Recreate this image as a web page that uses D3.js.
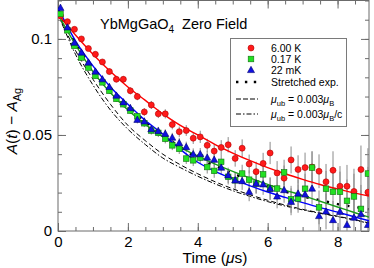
<!DOCTYPE html>
<html>
<head>
<meta charset="utf-8">
<script src="https://cdn.jsdelivr.net/npm/d3@7"></script>
<style>
  body { margin: 0; background: #fff; }
  svg { display: block; font-family: "Liberation Sans", Arial, sans-serif; }
</style>
</head>
<body>
<div id="chart"></div>
<script>
// time bins (us)
const times = [0.07, 0.27, 0.47, 0.67, 0.87, 1.07, 1.27, 1.47, 1.67, 1.87,
  2.07, 2.27, 2.47, 2.67, 2.87, 3.07, 3.27, 3.47, 3.67, 3.87,
  4.07, 4.27, 4.47, 4.67, 4.87, 5.07, 5.27, 5.47, 5.67, 5.87,
  6.07, 6.27, 6.47, 6.67, 6.87, 7.07, 7.27, 7.47, 7.67, 7.87,
  8.07, 8.27, 8.47, 8.67, 8.87];

const red6K = [0.112, 0.109, 0.105, 0.100, 0.095, 0.092, 0.088, 0.083, 0.079, 0.079,
  0.073, 0.070, 0.062, 0.0656, 0.061, 0.061, 0.0554, 0.0517, 0.0523, 0.0483,
  0.049, 0.0446, 0.0416, 0.0435, 0.0449, 0.0378, 0.0431, 0.0349, 0.0309, 0.0352,
  0.0406, 0.0302, 0.0275, 0.037, 0.032, 0.033, 0.0333, 0.0311, 0.0256, 0.0316,
  0.0233, 0.0233, 0.0206, 0.032, 0.0202];

const green017K = [0.113, 0.1045, 0.0964, 0.0903, 0.0851, 0.0808, 0.0774, 0.073, 0.0688, 0.066,
  0.0627, 0.0597, 0.0561, 0.0523, 0.0511, 0.048, 0.0446, 0.0428, 0.0377, 0.0368,
  0.0382, 0.0333, 0.0313, 0.036, 0.0282, 0.0264, 0.0299, 0.0267, 0.0247, 0.0295,
  0.0221, 0.0221, 0.0305, 0.0165, 0.0169, 0.022, 0.033, 0.0123, 0.022, 0.0204,
  0.0204, 0.0157, 0.018, 0.0115, 0.0299];

const blue22mK = [0.1162, 0.106, 0.098, 0.0929, 0.0877, 0.083, 0.079, 0.075, 0.0705, 0.067,
  0.064, 0.0579, 0.057, 0.053, 0.052, 0.0506, 0.0486, 0.0458, 0.0437, 0.040,
  0.040, 0.0382, 0.0371, 0.033, 0.029, 0.0264, 0.026, 0.0204, 0.0247, 0.0243,
  0.022, 0.018, 0.0213, 0.0152, 0.0195, 0.019, 0.0221, 0.0078, 0.0102, 0.0057,
  0.010, 0.0032, 0.007, 0.0088, 0.0032];

const errs = [0.0008, 0.0009, 0.001, 0.0011, 0.0012, 0.0013, 0.0014, 0.0015, 0.0016, 0.0017,
  0.0018, 0.0019, 0.002, 0.0021, 0.0022, 0.0024, 0.0025, 0.0027, 0.0028, 0.003,
  0.0032, 0.0034, 0.0036, 0.0038, 0.004, 0.0043, 0.0046, 0.0049, 0.0052, 0.0055,
  0.0058, 0.0062, 0.0066, 0.007, 0.0074, 0.0078, 0.0083, 0.0088, 0.0093, 0.0099,
  0.0105, 0.0111, 0.0118, 0.0125, 0.0132];

// fit curves, read at these times
const fitTimes = [0, 0.5, 1, 1.5, 2, 2.5, 3, 3.5, 4, 4.5, 5, 5.5, 6, 6.5, 7, 7.5, 8, 8.5, 8.9];
const fitRed = [0.113, 0.102, 0.092, 0.083, 0.075, 0.068, 0.061, 0.055, 0.050, 0.045, 0.0406, 0.0366, 0.033, 0.0298, 0.0269, 0.0242, 0.0219, 0.0197, 0.0182];
const fitGreen = [0.113, 0.097, 0.083, 0.072, 0.063, 0.0555, 0.049, 0.0435, 0.039, 0.0348, 0.031, 0.0275, 0.0243, 0.0213, 0.0185, 0.0155, 0.0125, 0.0095, 0.0072];
const fitBlue = [0.116, 0.099, 0.086, 0.075, 0.066, 0.0575, 0.0505, 0.0425, 0.0358, 0.031, 0.027, 0.0235, 0.0203, 0.0175, 0.0148, 0.0122, 0.0098, 0.0073, 0.0053];
const fitStretched = [0.115, 0.098, 0.085, 0.074, 0.065, 0.057, 0.050, 0.0437, 0.038, 0.034, 0.030, 0.0265, 0.0232, 0.0205, 0.018, 0.016, 0.014, 0.0125, 0.0113];
const fitDashed = [0.113, 0.094, 0.079, 0.066, 0.055, 0.047, 0.040, 0.0345, 0.0298, 0.0256, 0.022, 0.0188, 0.016, 0.0135, 0.0113, 0.0094, 0.0077, 0.0058, 0.0042];
const fitDashDot = [0.113, 0.092, 0.076, 0.063, 0.053, 0.045, 0.038, 0.033, 0.0285, 0.0245, 0.021, 0.018, 0.0153, 0.013, 0.011, 0.0092, 0.0075, 0.0056, 0.004];

const xTicks = [0, 2, 4, 6, 8];
const yTicks = [0, 0.05, 0.1];

const W = 374, H = 268;
const mLeft = 58, mRight = 369, mTop = 0.5, mBottom = 231;

const svg = d3.select("#chart").append("svg").attr("width", W).attr("height", H);

const x = d3.scaleLinear().domain([0, 8.9]).range([mLeft, mRight]);
const y = d3.scaleLinear().domain([0, 0.12]).range([mBottom, mTop]);

const frameCol = "#6b6b6b";

// axes with inward ticks on all four sides
function styleAxis(g) {
  g.select(".domain").remove();
  g.selectAll("line").attr("stroke", frameCol);
  g.selectAll("text").attr("fill", "#000").style("font-size", "15px");
}
const xMinor = d3.range(0, 8.9, 0.5);
const yMinor = d3.range(0, 0.1201, 0.01);

svg.append("g").attr("transform", `translate(0,${mBottom})`)
  .call(d3.axisBottom(x).tickValues(xMinor).tickSize(-4).tickFormat(""))
  .call(styleAxis);
svg.append("g").attr("transform", `translate(0,${mBottom})`)
  .call(d3.axisBottom(x).tickValues(xTicks).tickSize(-8).tickPadding(5).tickFormat(d3.format("d")))
  .call(styleAxis);
svg.append("g").attr("transform", `translate(0,${mTop})`)
  .call(d3.axisTop(x).tickValues(xMinor).tickSize(-4).tickFormat(""))
  .call(styleAxis);
svg.append("g").attr("transform", `translate(0,${mTop})`)
  .call(d3.axisTop(x).tickValues(xTicks).tickSize(-8).tickFormat(""))
  .call(styleAxis);

svg.append("g").attr("transform", `translate(${mLeft},0)`)
  .call(d3.axisLeft(y).tickValues(yMinor).tickSize(-4).tickFormat(""))
  .call(styleAxis);
svg.append("g").attr("transform", `translate(${mLeft},0)`)
  .call(d3.axisLeft(y).tickValues(yTicks).tickSize(-8).tickPadding(6).tickFormat(d => d === 0 ? "0" : d3.format(".2~f")(d)))
  .call(styleAxis);
svg.append("g").attr("transform", `translate(${mRight},0)`)
  .call(d3.axisRight(y).tickValues(yMinor).tickSize(-4).tickFormat(""))
  .call(styleAxis);
svg.append("g").attr("transform", `translate(${mRight},0)`)
  .call(d3.axisRight(y).tickValues(yTicks).tickSize(-8).tickFormat(""))
  .call(styleAxis);

// frame
svg.append("rect").attr("x", mLeft).attr("y", mTop).attr("width", mRight - mLeft).attr("height", mBottom - mTop)
  .attr("fill", "none").attr("stroke", frameCol).attr("stroke-width", 1);

// clip for curves
svg.append("clipPath").attr("id", "plot")
  .append("rect").attr("x", mLeft).attr("y", mTop).attr("width", mRight - mLeft).attr("height", mBottom - mTop);
const plot = svg.append("g").attr("clip-path", "url(#plot)");

const line = d3.line().x(d => x(d[0])).y(d => y(d[1])).curve(d3.curveMonotoneX);
const curve = vals => fitTimes.map((t, i) => [t, vals[i]]);

plot.append("path").attr("d", line(curve(fitDashed)))
  .attr("fill", "none").attr("stroke", "#000").attr("stroke-width", 1).attr("stroke-dasharray", "5,3");
plot.append("path").attr("d", line(curve(fitDashDot)))
  .attr("fill", "none").attr("stroke", "#000").attr("stroke-width", 1).attr("stroke-dasharray", "5,2,1.5,2");
plot.append("path").attr("d", line(curve(fitStretched)))
  .attr("fill", "none").attr("stroke", "#000").attr("stroke-width", 2.4).attr("stroke-dasharray", "2.4,8");

// error bars
const series = [
  { vals: red6K, fill: "#ff1a1a", stroke: "#b00000", shape: "circle" },
  { vals: green017K, fill: "#22e022", stroke: "#107010", shape: "square" },
  { vals: blue22mK, fill: "#1010e0", stroke: "#000070", shape: "triangle" }
];
series.forEach(s => {
  plot.append("g").selectAll("line").data(times).join("line")
    .attr("x1", d => x(d)).attr("x2", d => x(d))
    .attr("y1", (d, i) => y(s.vals[i] - errs[i]))
    .attr("y2", (d, i) => y(s.vals[i] + errs[i]))
    .attr("stroke", "#8a8a8a").attr("stroke-width", 1);
});

plot.append("path").attr("d", line(curve(fitGreen)))
  .attr("fill", "none").attr("stroke", "#1a9a1a").attr("stroke-width", 1.4);
plot.append("path").attr("d", line(curve(fitBlue)))
  .attr("fill", "none").attr("stroke", "#0000ff").attr("stroke-width", 1.4);
plot.append("path").attr("d", line(curve(fitRed)))
  .attr("fill", "none").attr("stroke", "#ff0000").attr("stroke-width", 1.4);

function marker(g, shape, cx, cy, fill, stroke) {
  if (shape === "circle") {
    g.append("circle").attr("cx", cx).attr("cy", cy).attr("r", 3)
      .attr("fill", fill).attr("stroke", stroke).attr("stroke-width", 0.6);
  } else if (shape === "square") {
    g.append("rect").attr("x", cx - 2.8).attr("y", cy - 2.8).attr("width", 5.6).attr("height", 5.6)
      .attr("fill", fill).attr("stroke", stroke).attr("stroke-width", 0.6);
  } else {
    g.append("path").attr("d", `M${cx},${cy - 3.7}L${cx + 3.5},${cy + 2.6}L${cx - 3.5},${cy + 2.6}Z`)
      .attr("fill", fill).attr("stroke", stroke).attr("stroke-width", 0.6);
  }
}
series.forEach(s => {
  const g = plot.append("g");
  times.forEach((t, i) => marker(g, s.shape, x(t), y(s.vals[i]), s.fill, s.stroke));
});

// title
const title = svg.append("text").attr("x", 100).attr("y", 29).style("font-size", "14.5px").attr("fill", "#000");
title.append("tspan").text("YbMgGaO");
title.append("tspan").text("4").attr("dy", 4).style("font-size", "10px");
title.append("tspan").text("\u00a0 Zero Field").attr("dy", -4);

// legend
const lg = svg.append("g");
lg.append("rect").attr("x", 230.5).attr("y", 38.5).attr("width", 116).attr("height", 88)
  .attr("fill", "#fff").attr("stroke", "#7a7a7a").attr("stroke-width", 1);
const rowsY = [48, 59, 70, 82, 99, 114];
const lx0 = 236, lx1 = 258, tx = 271;
series.forEach((s, i) => marker(lg, s.shape, 251, rowsY[i], s.fill, s.stroke));
lg.append("line").attr("x1", lx0).attr("x2", lx1).attr("y1", rowsY[3]).attr("y2", rowsY[3])
  .attr("stroke", "#000").attr("stroke-width", 2.4).attr("stroke-dasharray", "2.4,6.5");
lg.append("line").attr("x1", lx0).attr("x2", lx1).attr("y1", rowsY[4]).attr("y2", rowsY[4])
  .attr("stroke", "#000").attr("stroke-width", 1).attr("stroke-dasharray", "5,2");
lg.append("line").attr("x1", lx0).attr("x2", lx1).attr("y1", rowsY[5]).attr("y2", rowsY[5])
  .attr("stroke", "#000").attr("stroke-width", 1).attr("stroke-dasharray", "5,2,1.5,2");

const labels = ["6.00 K", "0.17 K", "22 mK", "Stretched exp."];
labels.forEach((l, i) => {
  lg.append("text").attr("x", tx).attr("y", rowsY[i] + 4).style("font-size", "10.5px").text(l);
});
function muLabel(yy, suffix) {
  const t = lg.append("text").attr("x", tx).attr("y", yy + 4).style("font-size", "10.5px");
  t.append("tspan").text("μ").style("font-style", "italic");
  t.append("tspan").text("ub").attr("dy", 3).style("font-size", "7.5px");
  t.append("tspan").text(" = 0.003").attr("dy", -3);
  t.append("tspan").text("μ").style("font-style", "italic");
  t.append("tspan").text("B").attr("dy", 3).style("font-size", "7.5px");
  if (suffix) t.append("tspan").text(suffix).attr("dy", -3);
}
muLabel(rowsY[4], "");
muLabel(rowsY[5], "/c");

// axis titles
const xt = svg.append("text").attr("x", 215).attr("y", 263).attr("text-anchor", "middle").style("font-size", "15.5px");
xt.append("tspan").text("Time (");
xt.append("tspan").text("μ").style("font-style", "italic");
xt.append("tspan").text("s)");

const yt = svg.append("text").attr("transform", "translate(17,121) rotate(-90)")
  .attr("text-anchor", "middle").style("font-size", "15.5px");
yt.append("tspan").text("A").style("font-style", "italic");
yt.append("tspan").text("(");
yt.append("tspan").text("t").style("font-style", "italic");
yt.append("tspan").text(") − ");
yt.append("tspan").text("A").style("font-style", "italic");
yt.append("tspan").text("Ag").attr("dy", 4).style("font-size", "11px");
</script>
</body>
</html>
